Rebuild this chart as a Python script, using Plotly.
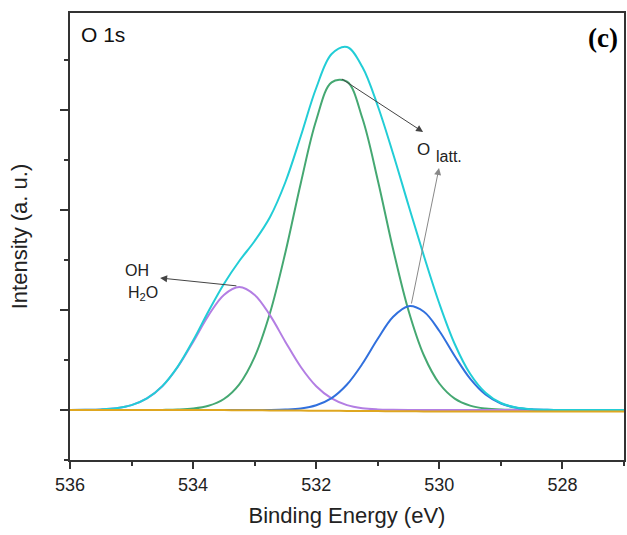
import plotly.graph_objects as go

# Binding energy grid (eV)
energy = [536.00, 535.75, 535.50, 535.25, 535.00, 534.75, 534.50, 534.25, 534.00,
          533.75, 533.50, 533.25, 533.00, 532.75, 532.50, 532.25, 532.00, 531.75,
          531.50, 531.25, 531.00, 530.75, 530.50, 530.25, 530.00, 529.75, 529.50,
          529.25, 529.00, 528.75, 528.50, 528.25, 528.00, 527.75, 527.50, 527.25, 527.00]

# OH / H2O component (purple)
oh_h2o = [0.000, 0.002, 0.006, 0.018, 0.049, 0.116, 0.238, 0.430, 0.681,
          0.946, 1.151, 1.230, 1.151, 0.946, 0.681, 0.430, 0.238, 0.116,
          0.049, 0.018, 0.006, 0.002, 0.000, 0.000, 0.000, 0.000, 0.000,
          0.000, 0.000, 0.000, 0.000, 0.000, 0.000, 0.000, 0.000, 0.000, 0.000]

# main lattice-oxygen component (green)
o_latt_main = [0.000, 0.000, 0.000, 0.000, 0.000, 0.000, 0.001, 0.004, 0.014,
               0.042, 0.110, 0.257, 0.531, 0.972, 1.578, 2.271, 2.898, 3.276,
               3.284, 2.917, 2.298, 1.605, 0.993, 0.545, 0.265, 0.114, 0.044,
               0.015, 0.004, 0.001, 0.000, 0.000, 0.000, 0.000, 0.000, 0.000, 0.000]

# second lattice-oxygen component (blue)
o_latt_low = [0.000, 0.000, 0.000, 0.000, 0.000, 0.000, 0.000, 0.000, 0.000,
              0.000, 0.000, 0.000, 0.000, 0.001, 0.005, 0.016, 0.048, 0.119,
              0.255, 0.462, 0.712, 0.932, 1.038, 0.982, 0.790, 0.540, 0.314,
              0.155, 0.065, 0.023, 0.007, 0.002, 0.000, 0.000, 0.000, 0.000, 0.000]

# envelope (cyan)
envelope = [0.000, 0.002, 0.006, 0.018, 0.049, 0.116, 0.239, 0.434, 0.695,
            0.988, 1.261, 1.490, 1.690, 1.930, 2.280, 2.740, 3.220, 3.560,
            3.630, 3.430, 3.040, 2.560, 2.045, 1.540, 1.065, 0.660, 0.362,
            0.172, 0.070, 0.024, 0.007, 0.002, 0.000, 0.000, 0.000, 0.000, 0.000]

# background (orange)
background = [0.000, 0.000, 0.000, 0.000, 0.000, 0.000, 0.000, 0.000, 0.000,
              0.000, -0.001, -0.002, -0.003, -0.004, -0.005, -0.006, -0.007, -0.008,
              -0.009, -0.010, -0.011, -0.012, -0.013, -0.014, -0.015, -0.015, -0.015,
              -0.015, -0.015, -0.015, -0.015, -0.015, -0.015, -0.015, -0.015, -0.015, -0.015]

x_ticks = [536, 534, 532, 530, 528]
y_ticks = [0, 1, 2, 3]

FONT = "Arial, Liberation Sans, sans-serif"

fig = go.Figure()
series = [
    (o_latt_main, "#45a872"),
    (oh_h2o, "#b37ee3"),
    (o_latt_low, "#3170dd"),
    (envelope, "#22cdd6"),
    (background, "#dfa720"),
]
for ys, col in series:
    fig.add_trace(go.Scatter(x=energy, y=ys, mode="lines",
                             line=dict(color=col, width=2, shape="spline", smoothing=1.0),
                             showlegend=False, hoverinfo="skip"))

axis_common = dict(showgrid=False, zeroline=False, showline=True, linecolor="#333333",
                   linewidth=2, mirror=True, ticks="outside", tickcolor="#333333",
                   tickwidth=2)

fig.update_layout(
    width=627, height=535,
    margin=dict(l=70, r=1, t=13, b=75),
    paper_bgcolor="white", plot_bgcolor="white",
    font=dict(family=FONT, color="#222222"),
    xaxis=dict(range=[536, 527], tickvals=x_ticks, ticklen=7,
               tickfont=dict(size=18, family=FONT, color="#222222"),
               title=dict(text="Binding Energy (eV)", font=dict(size=22, family=FONT), standoff=14),
               minor=dict(dtick=1, tick0=527, ticks="outside", ticklen=4, tickwidth=2,
                          tickcolor="#333333"),
               **axis_common),
    yaxis=dict(range=[-0.5, 3.97], tickvals=y_ticks, ticklen=8, showticklabels=False,
               title=dict(text="Intensity (a. u.)", font=dict(size=22, family=FONT), standoff=26),
               minor=dict(dtick=0.5, tick0=0.5, ticks="outside", ticklen=4, tickwidth=2,
                          tickcolor="#333333"),
               **axis_common),
)

ann = []
# labels
ann.append(dict(x=535.85, y=3.755, text="O 1s", showarrow=False, xanchor="left",
                font=dict(size=21, family=FONT, color="#111111")))
ann.append(dict(x=0.993, y=0.982, xref="paper", yref="paper", text="<b>(c)</b>", showarrow=False,
                xanchor="right", yanchor="top",
                font=dict(size=27, family="Times New Roman, Liberation Serif, serif", color="#000000")))
ann.append(dict(x=530.25, y=2.61, text="O", showarrow=False,
                font=dict(size=17, family=FONT, color="#222222")))
ann.append(dict(x=529.85, y=2.54, text="latt.", showarrow=False,
                font=dict(size=16, family=FONT, color="#222222")))
ann.append(dict(x=534.91, y=1.40, text="OH", showarrow=False,
                font=dict(size=16, family=FONT, color="#222222")))
ann.append(dict(x=534.82, y=1.17, text="H<sub>2</sub>O", showarrow=False,
                font=dict(size=16, family=FONT, color="#222222")))
# arrows
arrow_common = dict(text="", showarrow=True, axref="x", ayref="y", arrowhead=2,
                    arrowsize=1.4, arrowwidth=1, font=dict(size=12))
ann.append(dict(x=530.264, y=2.78, ax=531.607, ay=3.32, arrowcolor="#444444", **arrow_common))
ann.append(dict(x=530.005, y=2.42, ax=530.458, ay=1.05, arrowcolor="#888888", **arrow_common))
ann.append(dict(x=534.536, y=1.32, ax=533.273, ay=1.24, arrowcolor="#444444", **arrow_common))
fig.update_layout(annotations=ann)

fig.write_html("out.html")
